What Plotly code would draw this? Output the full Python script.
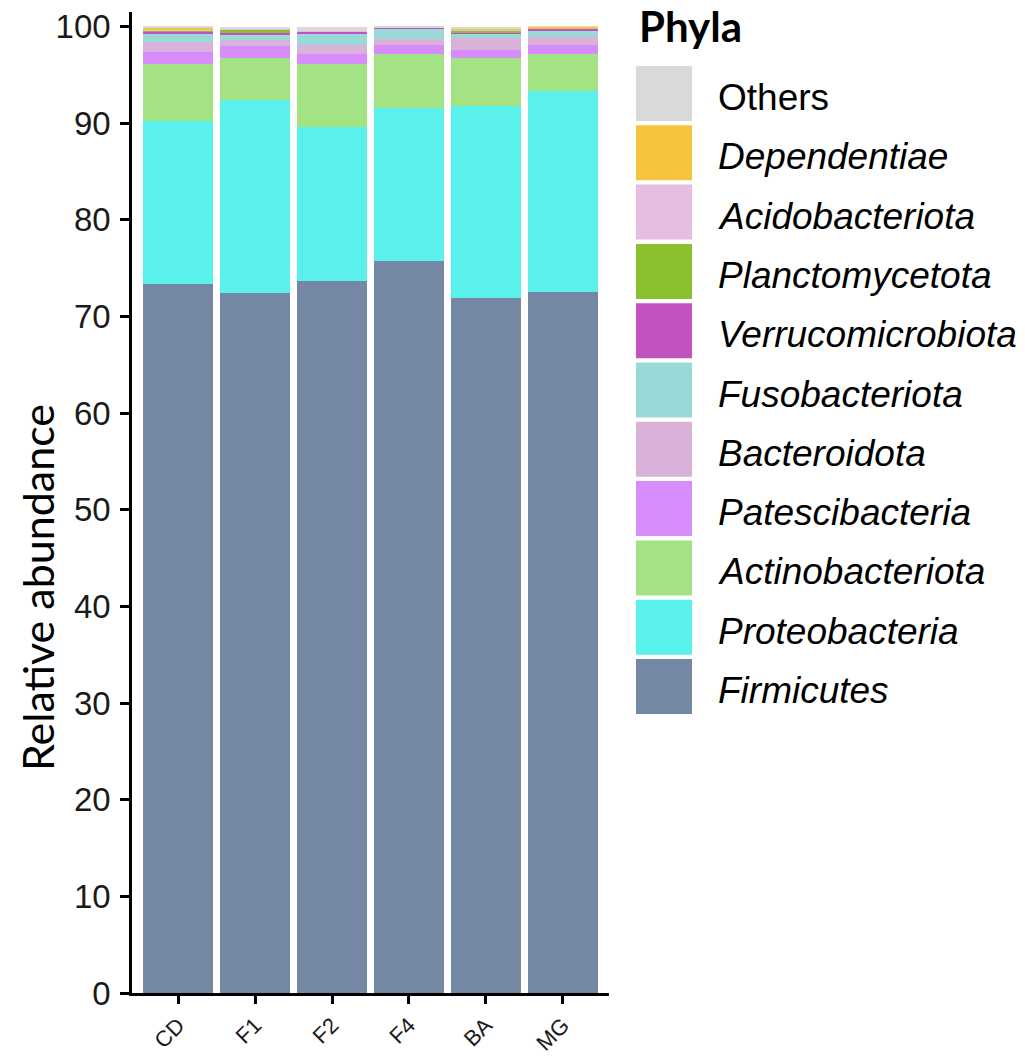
import plotly.graph_objects as go

# Sample groups on the x axis
samples = ["CD", "F1", "F2", "F4", "BA", "MG"]

# Relative abundance (%) of each phylum per sample, bottom to top of the stack
firmicutes = [73.4, 72.4, 73.7, 75.7, 71.9, 72.5]
proteobacteria = [16.8, 20.0, 15.9, 15.9, 19.9, 20.8]
actinobacteriota = [5.9, 4.3, 6.5, 5.6, 4.9, 3.9]
patescibacteria = [1.3, 1.3, 1.1, 0.9, 0.9, 0.9]
bacteroidota = [1.0, 0.6, 0.9, 0.6, 1.2, 0.8]
fusobacteriota = [0.8, 0.6, 1.2, 1.1, 0.5, 0.6]
verrucomicrobiota = [0.3, 0.15, 0.15, 0.05, 0.05, 0.25]
planctomycetota = [0.05, 0.3, 0.0, 0.0, 0.2, 0.0]
acidobacteriota = [0.15, 0.1, 0.1, 0.05, 0.1, 0.05]
dependentiae = [0.2, 0.05, 0.0, 0.0, 0.05, 0.15]
others = [0.1, 0.2, 0.45, 0.1, 0.3, 0.05]

phyla = [
    ("Firmicutes", firmicutes, "#7488a3", True),
    ("Proteobacteria", proteobacteria, "#5af0eb", True),
    ("Actinobacteriota", actinobacteriota, "#a3e384", True),
    ("Patescibacteria", patescibacteria, "#d68cfa", True),
    ("Bacteroidota", bacteroidota, "#d9b1d9", True),
    ("Fusobacteriota", fusobacteriota, "#99d9d7", True),
    ("Verrucomicrobiota", verrucomicrobiota, "#c152bf", True),
    ("Planctomycetota", planctomycetota, "#8bbf2e", True),
    ("Acidobacteriota", acidobacteriota, "#e6bde0", True),
    ("Dependentiae", dependentiae, "#f5c43c", True),
    ("Others", others, "#d9d9d9", False),
]

y_ticks = list(range(0, 101, 10))

W, H = 1025, 1059
ML, MR, MT, MB = 132, 416, 12, 66
PW = W - ML - MR
PH = H - MT - MB

fig = go.Figure()
for name, vals, color, _ in phyla:
    fig.add_trace(go.Bar(
        x=samples, y=vals, name=name,
        marker=dict(color=color, line=dict(width=0)),
        showlegend=False,
    ))

fig.update_layout(
    width=W, height=H,
    margin=dict(l=ML, r=MR, t=MT, b=MB, pad=0, autoexpand=False),
    barmode="stack", bargap=0.09,
    plot_bgcolor="white", paper_bgcolor="white",
    font=dict(family="Liberation Sans, Arial, sans-serif", color="black"),
    xaxis=dict(
        range=[-0.6, 5.6], showline=True, linecolor="black", linewidth=2.5,
        ticks="outside", ticklen=8, tickwidth=2.5, tickcolor="black",
        tickangle=-45, tickfont=dict(size=22, color="#1a1a1a"), showgrid=False,
        zeroline=False, automargin=False,
    ),
    yaxis=dict(
        range=[0, 101.5], showline=True, linecolor="black", linewidth=2.5,
        ticks="outside", ticklen=9, tickwidth=2.5, tickcolor="black",
        tickvals=y_ticks, tickfont=dict(size=33, color="#1a1a1a"), showgrid=False,
        ticklabelstandoff=3, zeroline=False, automargin=False,
    ),
)

# Legend drawn as large swatches with labels to the right of the plot
def px_to_paper_x(px):
    return (px - ML) / PW

def px_to_paper_y(py):
    return 1 - (py - MT) / PH

# Y axis title placed by pixel so the plot area keeps its size
fig.add_annotation(
    xref="paper", yref="paper", x=px_to_paper_x(37), y=px_to_paper_y(588),
    xanchor="center", yanchor="middle", showarrow=False, textangle=-90,
    text="Relative abundance",
    font=dict(family="Lato, Open Sans, sans-serif", size=43, color="black"),
)

fig.add_annotation(
    xref="paper", yref="paper", x=px_to_paper_x(637), y=px_to_paper_y(26),
    xanchor="left", yanchor="middle", showarrow=False,
    text="<b>Phyla</b>", font=dict(family="Lato, Open Sans, sans-serif", size=42, color="black"),
)

legend_order = list(reversed(phyla))
row_top0, row_step, sw = 66, 59.3, 55
for i, (name, _, color, italic) in enumerate(legend_order):
    top = row_top0 + i * row_step
    fig.add_shape(
        type="rect", xref="paper", yref="paper",
        x0=px_to_paper_x(636), x1=px_to_paper_x(692),
        y0=px_to_paper_y(top + sw), y1=px_to_paper_y(top),
        fillcolor=color, line=dict(width=0),
    )
    label = f"<i>{name}</i>" if italic else name
    fig.add_annotation(
        xref="paper", yref="paper", x=px_to_paper_x(716), y=px_to_paper_y(top + sw / 2 + 4),
        xanchor="left", yanchor="middle", showarrow=False,
        text=label, font=dict(size=37, color="black"),
    )

fig.write_html("out.html")
